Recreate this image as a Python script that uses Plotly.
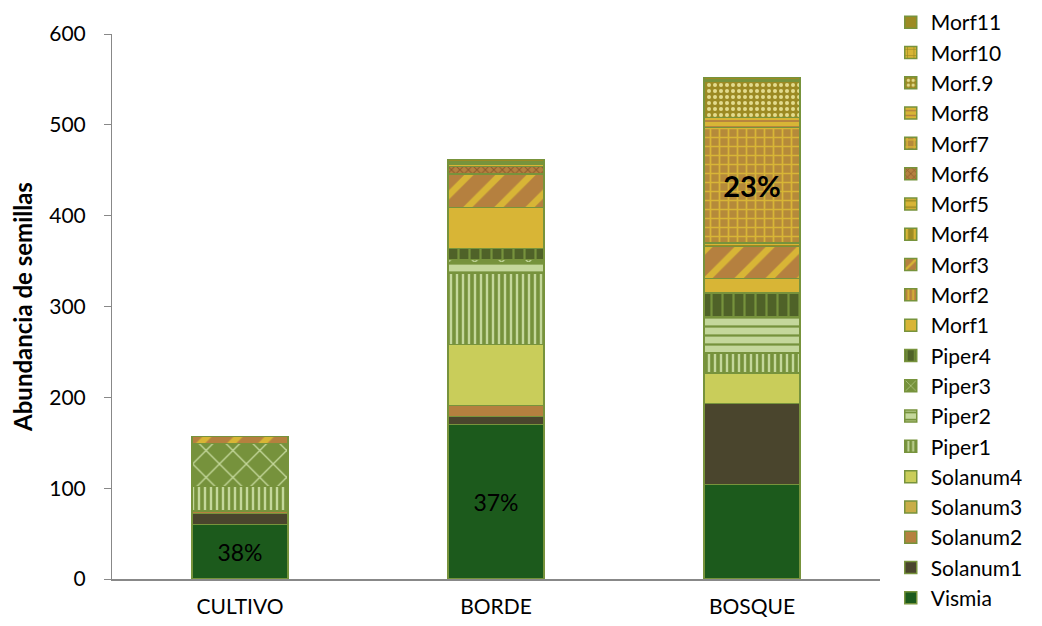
import plotly.graph_objects as go

categories = ["CULTIVO", "BORDE", "BOSQUE"]
series_names = ["Vismia", "Solanum1", "Solanum2", "Solanum3", "Solanum4",
                "Piper1", "Piper2", "Piper3", "Piper4",
                "Morf1", "Morf2", "Morf3", "Morf4", "Morf5", "Morf6",
                "Morf7", "Morf8", "Morf.9", "Morf10", "Morf11"]

Vismia = [60, 170, 104]
Solanum1 = [12, 9, 89]
Solanum2 = [3, 12, 0]
Solanum3 = [0, 0, 0]
Solanum4 = [0, 67, 34]
Piper1 = [27, 79, 22]
Piper2 = [0, 11, 40]
Piper3 = [47, 4, 0]
Piper4 = [0, 12, 26]
Morf1 = [0, 45, 16]
Morf2 = [0, 0, 0]
Morf3 = [8, 37, 35]
Morf4 = [0, 0, 0]
Morf5 = [0, 0, 4]
Morf6 = [0, 8, 0]
Morf7 = [0, 0, 127]
Morf8 = [0, 3, 11]
Morf9 = [0, 0, 40]
Morf10 = [0, 2, 2]
Morf11 = [0, 3, 2]

vismia_labels = ["38%", "37%", ""]
morf7_labels = ["", "", "<b>23%</b>"]

values = [Vismia, Solanum1, Solanum2, Solanum3, Solanum4, Piper1, Piper2, Piper3, Piper4,
          Morf1, Morf2, Morf3, Morf4, Morf5, Morf6, Morf7, Morf8, Morf9, Morf10, Morf11]

GOLD = "#d8b536"
BROWN = "#b5803f"
OLIVE = "#9c8a23"
GREEN = "#76923c"
LGREEN = "#c4d79b"
DGREEN = "#4f6228"

styles = {
    "Vismia": dict(color="#1c5a1c"),
    "Solanum1": dict(color="#4a452d"),
    "Solanum2": dict(color=BROWN),
    "Solanum3": dict(color="#c8ad48"),
    "Solanum4": dict(color="#c9cd5a"),
    "Piper1": dict(color=GREEN, pattern=dict(shape="|", fgcolor=LGREEN, bgcolor=GREEN, size=6, solidity=0.4, fillmode="replace")),
    "Piper2": dict(color=LGREEN, pattern=dict(shape="-", fgcolor=GREEN, bgcolor=LGREEN, size=9, solidity=0.25, fillmode="replace")),
    "Piper3": dict(color=GREEN, pattern=dict(shape="x", fgcolor=LGREEN, bgcolor=GREEN, size=19, solidity=0.14, fillmode="replace")),
    "Piper4": dict(color=DGREEN, pattern=dict(shape="|", fgcolor=GREEN, bgcolor=DGREEN, size=11, solidity=0.2, fillmode="replace")),
    "Morf1": dict(color=GOLD),
    "Morf2": dict(color=BROWN, pattern=dict(shape="|", fgcolor=GOLD, bgcolor=BROWN, size=6, solidity=0.4, fillmode="replace")),
    "Morf3": dict(color=BROWN, pattern=dict(shape="/", fgcolor=GOLD, bgcolor=BROWN, size=22, solidity=0.3, fillmode="replace")),
    "Morf4": dict(color=OLIVE, pattern=dict(shape="|", fgcolor=GOLD, bgcolor=OLIVE, size=12, solidity=0.3, fillmode="replace")),
    "Morf5": dict(color=GOLD, pattern=dict(shape="-", fgcolor=OLIVE, bgcolor=GOLD, size=8, solidity=0.25, fillmode="replace")),
    "Morf6": dict(color=BROWN, pattern=dict(shape="x", fgcolor="#8a5a2a", bgcolor=BROWN, size=6, solidity=0.3, fillmode="replace")),
    "Morf7": dict(color="#b58a3a", pattern=dict(shape="+", fgcolor=GOLD, bgcolor="#b58a3a", size=9, solidity=0.35, fillmode="replace")),
    "Morf8": dict(color=GOLD, pattern=dict(shape="-", fgcolor=BROWN, bgcolor=GOLD, size=6, solidity=0.3, fillmode="replace")),
    "Morf.9": dict(color=OLIVE, pattern=dict(shape=".", fgcolor="#e3dc8e", bgcolor=OLIVE, size=6, solidity=0.35, fillmode="replace")),
    "Morf10": dict(color=GOLD, pattern=dict(shape="+", fgcolor=OLIVE, bgcolor=GOLD, size=8, solidity=0.2, fillmode="replace")),
    "Morf11": dict(color=OLIVE),
}

fig = go.Figure()
for name, vals in zip(series_names, values):
    marker = dict(styles[name])
    marker["line"] = dict(color="#77933c", width=1.5)
    if name == "Vismia":
        kw = dict(text=vismia_labels, textposition="inside", insidetextanchor="middle",
                  textfont=dict(color="black", size=23, family="Lato"))
    elif name == "Morf7":
        kw = dict(text=morf7_labels, textposition="inside", insidetextanchor="middle",
                  textfont=dict(color="black", size=29, family="Lato"))
    else:
        kw = dict(textposition="none")
    fig.add_trace(go.Bar(name=name, x=categories, y=vals, marker=marker, hoverinfo="x+y+name", **kw))

# page body adds an 8px margin, so the figure is sized to fit inside it
fig.update_layout(
    barmode="stack",
    bargap=0.625,
    width=1026, height=610,
    margin=dict(l=104, r=154, t=26, b=39, autoexpand=False),
    plot_bgcolor="white", paper_bgcolor="white",
    font=dict(family="Lato", color="black", size=20),
    legend=dict(traceorder="reversed", x=1.014, xanchor="left", y=1.0587, yanchor="top",
                font=dict(size=21, family="Lato"), itemwidth=30, tracegroupgap=0,
                maxheight=700),
    showlegend=True,
)
fig.update_xaxes(showline=True, linecolor="#888888", linewidth=1.5, ticks="", automargin=False,
                 tickfont=dict(size=21), ticklabelstandoff=8)
fig.update_yaxes(range=[0, 600], dtick=100, showline=True, linecolor="#888888", linewidth=1,
                 ticks="outside", ticklen=7, tickcolor="#888888", showgrid=False, zeroline=False,
                 automargin=False, tickfont=dict(size=21), ticklabelstandoff=14,
                 title=dict(text="<b>Abundancia de semillas</b>", font=dict(size=24), standoff=12))

fig.write_html("out.html")
